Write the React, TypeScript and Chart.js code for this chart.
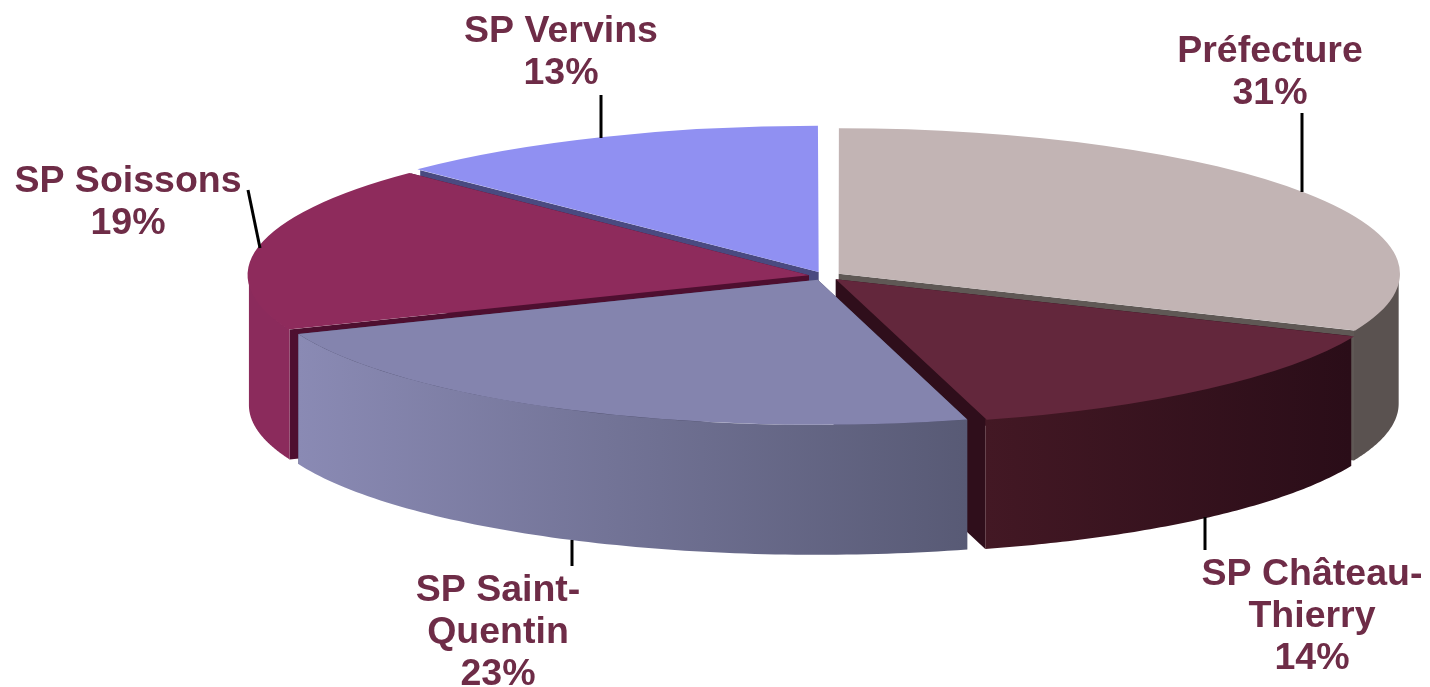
import React, { useEffect, useRef } from "react";
import { Chart, registerables } from "chart.js";

Chart.register(...registerables);

const categories = ["Préfecture", "SP Château-Thierry", "SP Saint-Quentin", "SP Soissons", "SP Vervins"];
const shares = [31.4, 14.3, 23.2, 18.5, 12.6];
const topColors = ["#C2B4B4", "#63273C", "#8484AE", "#8E2B5C", "#9090F2"];
const cutColors = ["#5F5855", "#2F0E1B", "#4A4A66", "#4E0F30", "#4A4A80"];
const wallLeft = ["#5A5250", "#431824", "#8A8AB4", "#8B2B5C", "#4A4A80"];
const wallRight = ["#5A5250", "#2A0D18", "#585A75", "#8B2B5C", "#4A4A80"];
const paintOrder = [4, 3, 0, 1, 2];

const W = 1430;
const H = 687;
const centre = { x: 825, y: 276 };
const radiusX = 560;
const radiusY = 145;
const depth = 130;

const labelLayout = [
  { x: 1270, y: 52, line: [1302, 113, 1302, 192] },
  { x: 1312, y: 575, line: [1205, 517, 1205, 550] },
  { x: 498, y: 591, line: [572, 540, 572, 566] },
  { x: 128, y: 182, line: [248, 190, 260, 248] },
  { x: 561, y: 32, line: [601, 95, 601, 138] },
];

function geometry(chart: any, i: number) {
  const arc: any = chart.getDatasetMeta(0).data[i];
  const R = arc.outerRadius;
  const sx = radiusX / R;
  const sy = radiusY / R;
  const off = (arc.options.offset || 0) / 4;
  const half = (arc.startAngle + arc.endAngle) / 2;
  const ox = centre.x + Math.cos(half) * off * sx;
  const oy = centre.y + Math.sin(half) * off * sy;
  return { arc, sx, sy, ox, oy };
}

const pie3d = {
  id: "pie3d",
  beforeDatasetsDraw(chart: any) {
    const ctx = chart.ctx;
    paintOrder.forEach((i) => {
      const { arc, ox, oy } = geometry(chart, i);
      const pt = (a: number) => [ox + radiusX * Math.cos(a), oy + radiusY * Math.sin(a)];
      [arc.startAngle, arc.endAngle].forEach((a: number) => {
        const [ex, ey] = pt(a);
        ctx.fillStyle = cutColors[i];
        ctx.beginPath();
        ctx.moveTo(ox, oy);
        ctx.lineTo(ex, ey);
        ctx.lineTo(ex, ey + depth);
        ctx.lineTo(ox, oy + depth);
        ctx.closePath();
        ctx.fill();
      });
      const lo = Math.max(arc.startAngle, 0);
      const hi = Math.min(arc.endAngle, Math.PI);
      if (hi > lo) {
        const a = pt(lo);
        const b = pt(hi);
        const g = ctx.createLinearGradient(Math.min(a[0], b[0]), 0, Math.max(a[0], b[0]), 0);
        g.addColorStop(0, wallLeft[i]);
        g.addColorStop(1, wallRight[i]);
        ctx.fillStyle = g;
        ctx.beginPath();
        const n = 80;
        for (let k = 0; k <= n; k++) {
          const p = pt(lo + ((hi - lo) * k) / n);
          if (k === 0) ctx.moveTo(p[0], p[1]);
          else ctx.lineTo(p[0], p[1]);
        }
        for (let k = n; k >= 0; k--) {
          const p = pt(lo + ((hi - lo) * k) / n);
          ctx.lineTo(p[0], p[1] + depth);
        }
        ctx.closePath();
        ctx.fill();
      }
    });
    const { arc, sx, sy } = geometry(chart, 0);
    ctx.save();
    ctx.translate(centre.x, centre.y);
    ctx.scale(sx, sy);
    ctx.translate(-arc.x, -arc.y);
  },
  afterDatasetsDraw(chart: any) {
    const ctx = chart.ctx;
    ctx.restore();
    ctx.strokeStyle = "#000000";
    ctx.lineWidth = 3;
    labelLayout.forEach((l) => {
      ctx.beginPath();
      ctx.moveTo(l.line[0], l.line[1]);
      ctx.lineTo(l.line[2], l.line[3]);
      ctx.stroke();
    });
    ctx.fillStyle = "#6E2C47";
    ctx.font = "bold 37.5px 'Liberation Sans', Arial, sans-serif";
    ctx.textAlign = "center";
    ctx.textBaseline = "middle";
    categories.forEach((name, i) => {
      const lines = name.split(/(?<=-)/).concat(`${Math.round(shares[i])}%`);
      lines.forEach((t, k) => ctx.fillText(t, labelLayout[i].x, labelLayout[i].y + k * 42));
    });
  },
};

export default function App() {
  const ref = useRef<HTMLCanvasElement | null>(null);
  useEffect(() => {
    document.body.style.margin = "0";
    const chart = new Chart(ref.current as HTMLCanvasElement, {
      type: "pie",
      data: {
        labels: categories,
        datasets: [
          {
            data: shares,
            backgroundColor: topColors,
            borderWidth: 0,
            offset: 38,
            clip: false,
          } as any,
        ],
      },
      options: {
        responsive: false,
        animation: false,
        plugins: { legend: { display: false }, tooltip: { enabled: false } },
      },
      plugins: [pie3d],
    });
    return () => chart.destroy();
  }, []);
  return <canvas ref={ref} width={W} height={H} style={{ display: "block" }} />;
}
